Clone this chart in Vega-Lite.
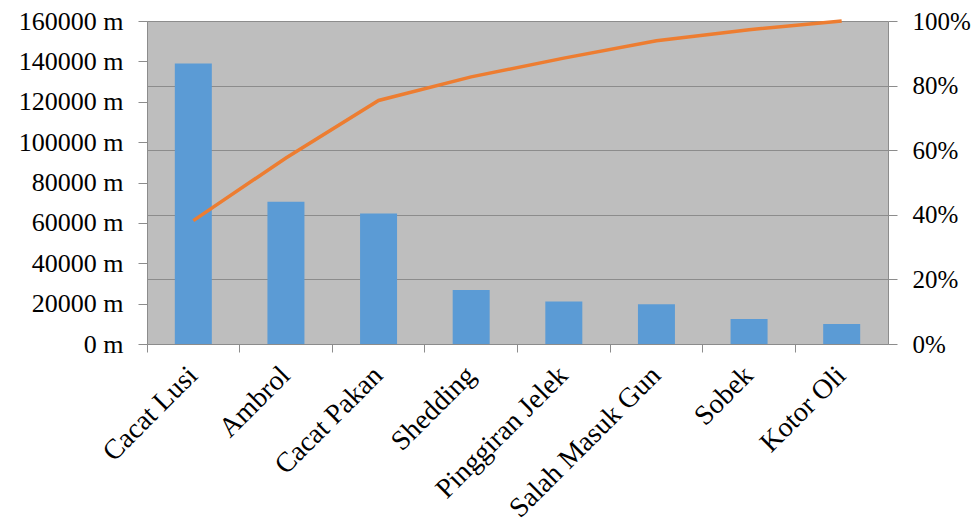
{
  "$schema": "https://vega.github.io/schema/vega-lite/v6.json",
  "width": 741,
  "height": 323,
  "autosize": {"type": "none"},
  "padding": {"left": 147, "top": 21, "right": 86, "bottom": 175},
  "background": "white",
  "config": {
    "view": {"fill": "#BEBEBE", "stroke": null},
    "font": "Liberation Serif",
    "axis": {
      "labelFont": "Liberation Serif",
      "labelFontSize": 25,
      "labelColor": "black",
      "domainColor": "#8C8C8C",
      "tickColor": "#8C8C8C",
      "gridColor": "#8C8C8C",
      "domainWidth": 1,
      "tickWidth": 1,
      "gridWidth": 1,
      "title": null
    }
  },
  "data": {
    "values": [
      {"jenis": "Cacat Lusi", "panjang": 139000, "kumulatif": 0.382},
      {"jenis": "Ambrol", "panjang": 70500, "kumulatif": 0.576},
      {"jenis": "Cacat Pakan", "panjang": 64700, "kumulatif": 0.754},
      {"jenis": "Shedding", "panjang": 26700, "kumulatif": 0.827},
      {"jenis": "Pinggiran Jelek", "panjang": 21000, "kumulatif": 0.885},
      {"jenis": "Salah Masuk Gun", "panjang": 19700, "kumulatif": 0.939},
      {"jenis": "Sobek", "panjang": 12400, "kumulatif": 0.973},
      {"jenis": "Kotor Oli", "panjang": 9900, "kumulatif": 1.0}
    ]
  },
  "encoding": {
    "x": {
      "field": "jenis",
      "type": "nominal",
      "sort": null,
      "scale": {"paddingInner": 0, "paddingOuter": 0},
      "axis": {
        "title": null,
        "labelAngle": -45,
        "labelAlign": "right",
        "labelBaseline": "middle",
        "labelFontSize": 28,
        "labelLimit": 0,
        "tickSize": 8,
        "bandPosition": 0,
        "labelPadding": 19,
        "grid": false
      }
    }
  },
  "layer": [
    {
      "mark": {"type": "bar", "color": "#5B9BD5", "size": 37},
      "encoding": {
        "y": {
          "field": "panjang",
          "type": "quantitative",
          "scale": {"domain": [0, 160000], "nice": false},
          "axis": {
            "title": null,
            "values": [0, 20000, 40000, 60000, 80000, 100000, 120000, 140000, 160000],
            "labelExpr": "datum.value + ' m'",
            "labelFontSize": 26,
            "grid": false,
            "tickSize": 9,
            "labelPadding": 15
          }
        }
      }
    },
    {
      "mark": {"type": "line", "color": "#ED7D31", "strokeWidth": 3.5},
      "encoding": {
        "y": {
          "field": "kumulatif",
          "type": "quantitative",
          "scale": {"domain": [0, 1], "nice": false},
          "axis": {
            "title": null,
            "orient": "right",
            "format": ".0%",
            "values": [0, 0.2, 0.4, 0.6, 0.8, 1],
            "grid": true,
            "tickSize": 9,
            "labelPadding": 15
          }
        }
      }
    }
  ],
  "resolve": {"scale": {"y": "independent"}}
}
